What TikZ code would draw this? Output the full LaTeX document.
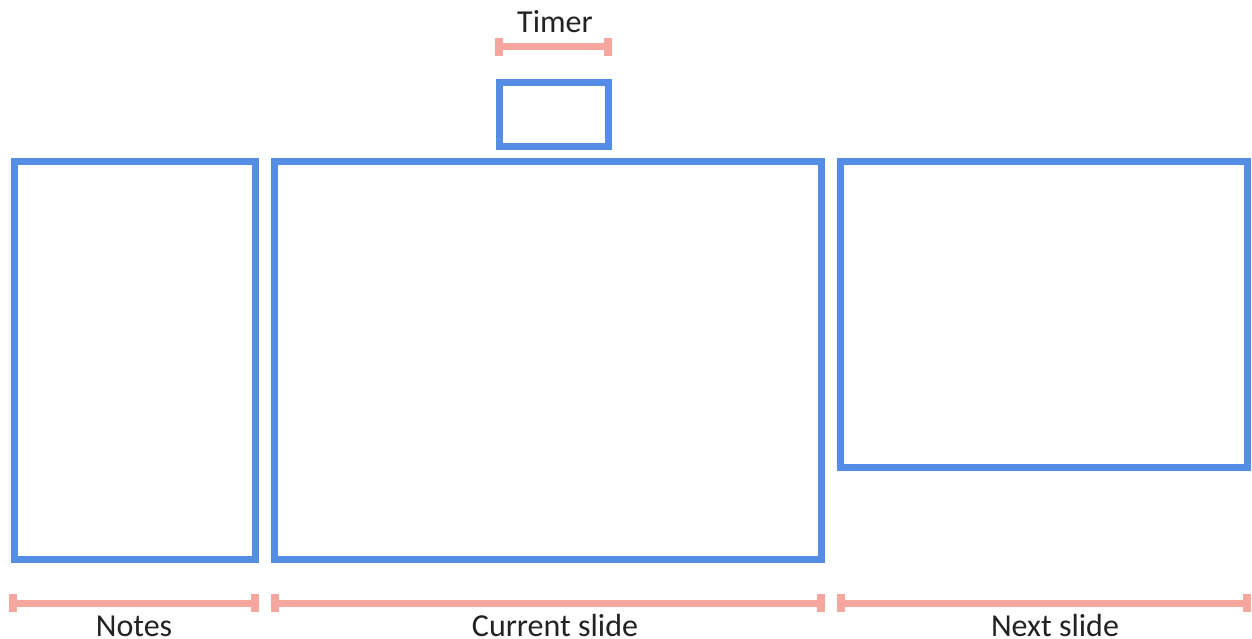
\documentclass[tikz,border=0pt]{standalone}
\usepackage{fontspec}
\setmainfont{Carlito}
\definecolor{frameblue}{RGB}{84,142,228}
\definecolor{spanpink}{RGB}{245,166,158}
\definecolor{labelgray}{RGB}{34,34,34}
\tikzset{
  pane/.style={draw=frameblue, line width=7pt, inner sep=0pt, outer sep=0pt},
  spanline/.style={draw=spanpink, line width=7pt, line cap=butt},
  spancap/.style={fill=spanpink},
  label/.style={text=labelgray, font=\fontsize{32}{36}\selectfont, anchor=base, inner sep=0pt}
}
% horizontal span marker: left x, right x, centre y
\newcommand\spanmark[3]{%
  \draw[spanline] (#1,#3) -- (#2,#3);
  \fill[spancap] (#1,#3-9) rectangle ++(8,18);
  \fill[spancap] (#2-8,#3-9) rectangle ++(8,18);
}
\begin{document}
\begin{tikzpicture}[x=1pt,y=-1pt]
  \useasboundingbox (0,0) rectangle (1252,639);
  % panes
  \node[pane, minimum width=241pt, minimum height=398pt] (notes) at (135,360.5) {};
  \node[pane, minimum width=547pt, minimum height=398pt] (current) at (548,360.5) {};
  \node[pane, minimum width=407pt, minimum height=306pt] (next) at (1044,314.5) {};
  \node[pane, minimum width=109.5pt, minimum height=63.5pt] (timer) at (553.75,114.75) {};
  % span markers
  \spanmark{495}{612}{47}
  \spanmark{9}{259}{603}
  \spanmark{271}{825}{603}
  \spanmark{837}{1251}{603}
  % labels
  \node[label] (timerlabel) at (555,33) {Timer};
  \node[label] (noteslabel) at (134,636) {Notes};
  \node[label] (currentlabel) at (555,636) {Current slide};
  \node[label] (nextlabel) at (1055,636) {Next slide};
\end{tikzpicture}
\end{document}
